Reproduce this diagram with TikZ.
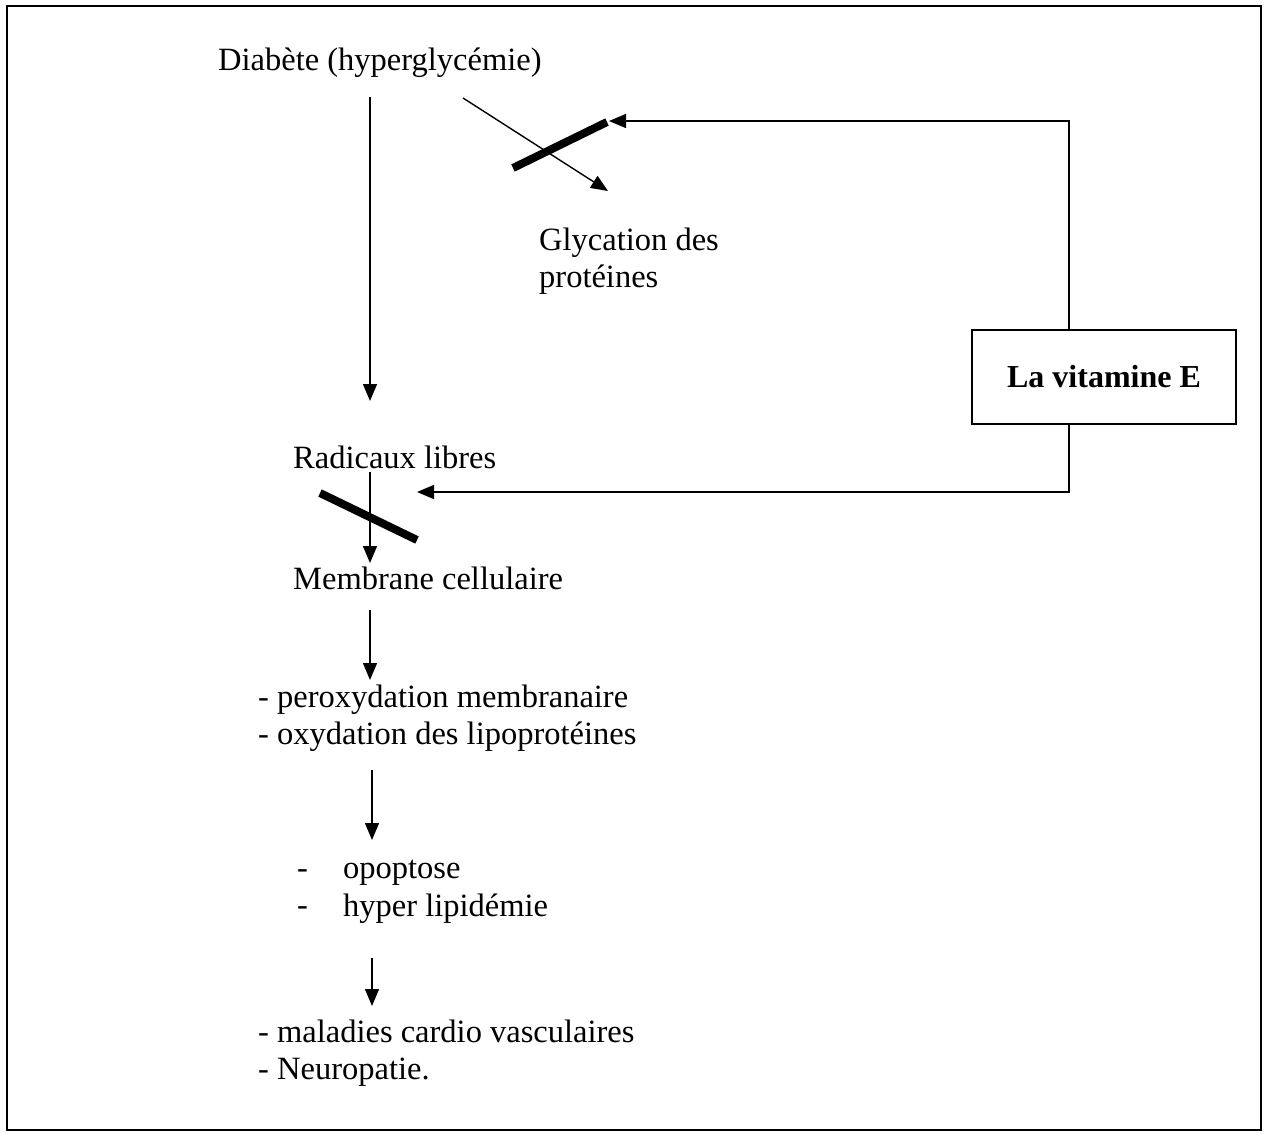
\documentclass[tikz,border=0pt]{standalone}
\usepackage{fontspec}
\setmainfont{Liberation Serif}
\usetikzlibrary{arrows.meta}
\begin{document}
\begin{tikzpicture}[x=1pt,y=-1pt,
  txt/.style={inner sep=0pt,font=\fontsize{32.5}{37.5}\selectfont,align=left},
  arr/.style={line width=1.4pt,-{Triangle[length=17pt,width=14pt]}},
  bar/.style={line width=8pt},
  frame/.style={line width=1.5pt}]
\useasboundingbox (0,0) rectangle (1268,1133);
\draw[frame] (7,6) rectangle (1261,1130);
\node[txt,anchor=west] (diab) at (218,63) {Diabète (hyperglycémie)};
\node[txt,anchor=west] (glyc) at (539,261) {Glycation des\\protéines};
\node[draw,line width=1.5pt,minimum width=264pt,minimum height=94pt,font=\fontsize{32}{37}\selectfont\bfseries] (vit) at (1104,377) {La vitamine E};
\node[txt,anchor=west] (rad) at (293,457) {Radicaux libres};
\node[txt,anchor=west] (mem) at (293,578) {Membrane cellulaire};
\node[txt,anchor=west] (perox) at (258,718) {- peroxydation membranaire\\- oxydation des lipoprotéines};
\node[txt,anchor=west] (d1) at (297,874) {-};
\node[txt,anchor=west] (d2) at (297,911) {-};
\node[txt,anchor=west] (opop) at (343,892) {opoptose\\hyper lipidémie};
\node[txt,anchor=west] (mal) at (258,1053) {- maladies cardio vasculaires\\- Neuropatie.};
% coordinates
\coordinate (a1s) at (370,97); \coordinate (a1e) at (370,401);
\coordinate (gs) at (463,98); \coordinate (ge) at (608,191);
\coordinate (r1s) at (370,472); \coordinate (r1e) at (370,563);
\coordinate (m1s) at (370,610); \coordinate (m1e) at (370,680);
\coordinate (p1s) at (372,770); \coordinate (p1e) at (372,840);
\coordinate (o1s) at (372,958); \coordinate (o1e) at (372,1006);
\coordinate (t1) at (1069,121); \coordinate (t2) at (609,121);
\coordinate (b1) at (1069,492); \coordinate (b2) at (417,492);
\draw[arr] (a1s) -- (a1e);
\draw[arr] (gs) -- (ge);
\draw[arr] (r1s) -- (r1e);
\draw[arr] (m1s) -- (m1e);
\draw[arr] (p1s) -- (p1e);
\draw[arr] (o1s) -- (o1e);
\draw[arr] (vit.north -| t1) -- (t1) -- (t2);
\draw[arr] (vit.south -| b1) -- (b1) -- (b2);
\draw[bar] (513,168) -- (607,122);
\draw[bar] (320,493) -- (417,540);
\end{tikzpicture}
\end{document}
